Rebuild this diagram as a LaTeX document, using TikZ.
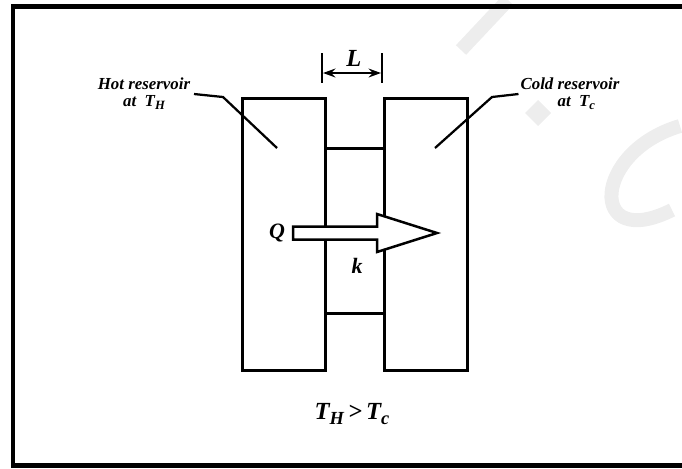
\documentclass[tikz,border=0pt]{standalone}
\usepackage{fontspec}
\setmainfont{Liberation Serif}
\usetikzlibrary{arrows.meta, positioning}
\tikzset{
  frame/.style={draw=black, line width=0.1cm, line join=miter},
  wall/.style={draw=black, line width=0.06cm},
  leader/.style={draw=black, line width=0.045cm},
  dimtick/.style={draw=black, line width=0.05cm},
  dimline/.style={draw=black, line width=0.04cm,
                  {Stealth[length=7pt,width=5pt]}-{Stealth[length=7pt,width=5pt]}},
  heat/.style={draw=black, fill=white, line width=0.05cm, line join=miter},
  wmark/.style={draw=gray!14, line width=0.28cm},
  lbl/.style={font=\bfseries\itshape\fontsize{9.6}{9.6}\selectfont,
              align=center, inner sep=0pt},
  sym/.style={font=\bfseries\itshape\fontsize{12.5}{14}\selectfont,
              inner sep=0pt},
}
\newcommand{\lowsub}[1]{\raisebox{-0.4ex}{\scalebox{0.75}{#1}}}

\begin{document}
\begin{tikzpicture}[x=0.02cm, y=-0.02cm]
    \useasboundingbox (0,0) rectangle (682,468);
    %% Faint marks in the background
    \draw[wmark] (508,0) -- (461,50);
    \fill[gray!14] (538,100) -- (551,113) -- (538,126) -- (525,113) -- cycle;
    \draw[wmark] (680,126) .. controls (592,152) and (588,252) .. (672,210);
    %% Frame
    \draw[frame] (682,6.5) -- (13,6.5) -- (13,465.5) -- (682,465.5);
    %% Reservoirs and slab
    \coordinate (hotNW) at (242,98);   \coordinate (hotSE) at (325,370);
    \coordinate (coldNW) at (384,98);  \coordinate (coldSE) at (467,370);
    \coordinate (slabNW) at (325,148); \coordinate (slabSE) at (384,313);
    \draw[wall] (hotNW) rectangle (hotSE);
    \draw[wall] (coldNW) rectangle (coldSE);
    \draw[wall] (slabNW) rectangle (slabSE);
    %% Heat flow arrow
    \draw[heat] (293,226.5) -- (377,226.5) -- (377,214) -- (437,233)
                -- (377,252) -- (377,239.5) -- (293,239.5) -- cycle;
    \node[sym] (Q) at (277,233) {Q};
    \node[sym] (k) at (357,266) {k};
    %% Thickness L
    \foreach \n/\x in {dimA/322,dimB/382}{
      \coordinate (\n top) at (\x,53);
      \coordinate (\n bot) at (\x,83);
      \draw[dimtick] (\n top) -- (\n bot);
    }
    \coordinate (dimA) at (323,73);
    \coordinate (dimB) at (381,73);
    \draw[dimline] (dimA) -- (dimB);
    \node[sym, font=\bfseries\itshape\fontsize{14}{16}\selectfont] (L) at (354,58) {L};
    %% Reservoir labels
    \node[lbl] (hotlbl) at (144,94) {Hot reservoir\\at\ \ T\lowsub{H}};
    \node[lbl] (coldlbl) at (570,94) {Cold reservoir\\\ \ \ at\ \ T\lowsub{c}};
    \coordinate (hotBend) at (223,97);  \coordinate (hotTip) at (277,148);
    \coordinate (coldBend) at (492,97); \coordinate (coldTip) at (435,148);
    \draw[leader] ([xshift=2pt]hotlbl.east) -- (hotBend) -- (hotTip);
    \draw[leader] ([xshift=-1pt]coldlbl.west) -- (coldBend) -- (coldTip);
    %% Condition
    \node[sym, font=\bfseries\itshape\fontsize{14}{16}\selectfont] (cond)
      at (352,414) {T\lowsub{H}\,>\,T\lowsub{c}};
\end{tikzpicture}
\end{document}
